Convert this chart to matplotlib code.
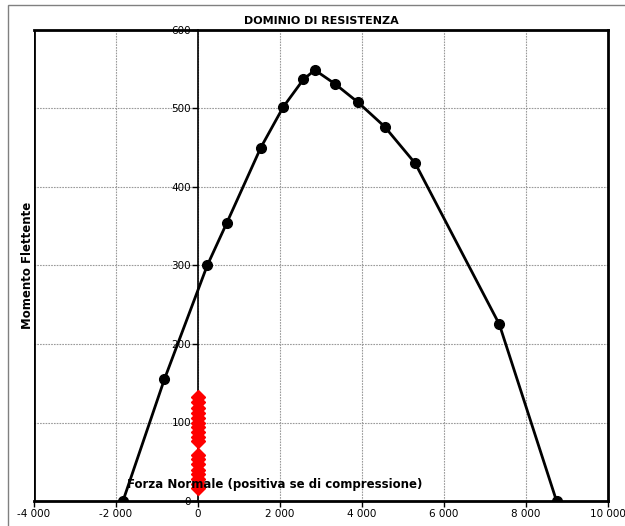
import matplotlib.pyplot as plt
from matplotlib.patches import Rectangle
from matplotlib.ticker import FuncFormatter

# domain curve: normal force N, bending moment M
forza_normale = [-1830, -820, 225, 700, 1530, 2080, 2570, 2850, 3350, 3900, 4550, 5300, 7350, 8745]
momento = [0, 155, 300, 354, 450, 502, 537, 549, 531, 508, 477, 430, 225, 0]

# load points (all at N = 0)
sollecitazioni_N = [0] * 18
sollecitazioni_M = [16, 22, 28, 34, 40, 47, 53, 59, 76, 82, 88, 94, 100, 106, 112, 119, 126, 132]

x_ticks = [-4000, -2000, 0, 2000, 4000, 6000, 8000, 10000]
y_ticks = [0, 100, 200, 300, 400, 500, 600]

FONT = 'DejaVu Sans'

fig = plt.figure(figsize=(6.25, 5.26), dpi=100)
ax = fig.add_axes([34 / 625, 1 - 501 / 526, (608 - 34) / 625, (501 - 30) / 526])

# outer chart frame
fig.patches.append(Rectangle((8 / 625, -0.01), 1.2, 1 - 5 / 526 + 0.01, transform=fig.transFigure,
                             fill=False, edgecolor='#808080', linewidth=1.0))

ax.plot(forza_normale, momento, color='black', linewidth=2, marker='o', markersize=7, zorder=3)
ax.plot(sollecitazioni_N, sollecitazioni_M, linestyle='none', marker='D', color='red',
        markersize=7, zorder=4)

ax.set_xlim(-4000, 10000)
ax.set_ylim(0, 600)
ax.set_xticks(x_ticks)
ax.set_yticks(y_ticks)
ax.xaxis.set_major_formatter(FuncFormatter(lambda v, p: f'{int(v):,}'.replace(',', ' ')))

ax.grid(True, color='#9a9a9a', linestyle=(0, (1.5, 1)), linewidth=0.8)
ax.set_axisbelow(True)

# vertical axis crosses at N = 0
ax.spines['left'].set_position(('data', 0))
ax.spines['left'].set_linewidth(1.2)
ax.axvline(-4000, color='black', linewidth=2, zorder=2)
for s in ['top', 'right', 'bottom']:
    ax.spines[s].set_linewidth(2)

ax.tick_params(axis='both', labelsize=7.5, length=4, width=1, direction='out', pad=2)
ax.tick_params(axis='y', pad=1)
for lab in ax.get_xticklabels() + ax.get_yticklabels():
    lab.set_fontfamily(FONT)

ax.set_title('DOMINIO DI RESISTENZA', fontsize=8, fontweight='bold', fontfamily=FONT, pad=4)
ax.text(0.42, 0.022, 'Forza Normale (positiva se di compressione)', transform=ax.transAxes,
        ha='center', va='bottom', fontsize=8.5, fontweight='bold', fontfamily=FONT, zorder=6)
fig.text(28 / 625, 1 - 265 / 526, 'Momento Flettente', rotation=90, ha='center', va='center',
         fontsize=8.5, fontweight='bold', fontfamily=FONT)

fig.savefig('out.png', dpi=100)
